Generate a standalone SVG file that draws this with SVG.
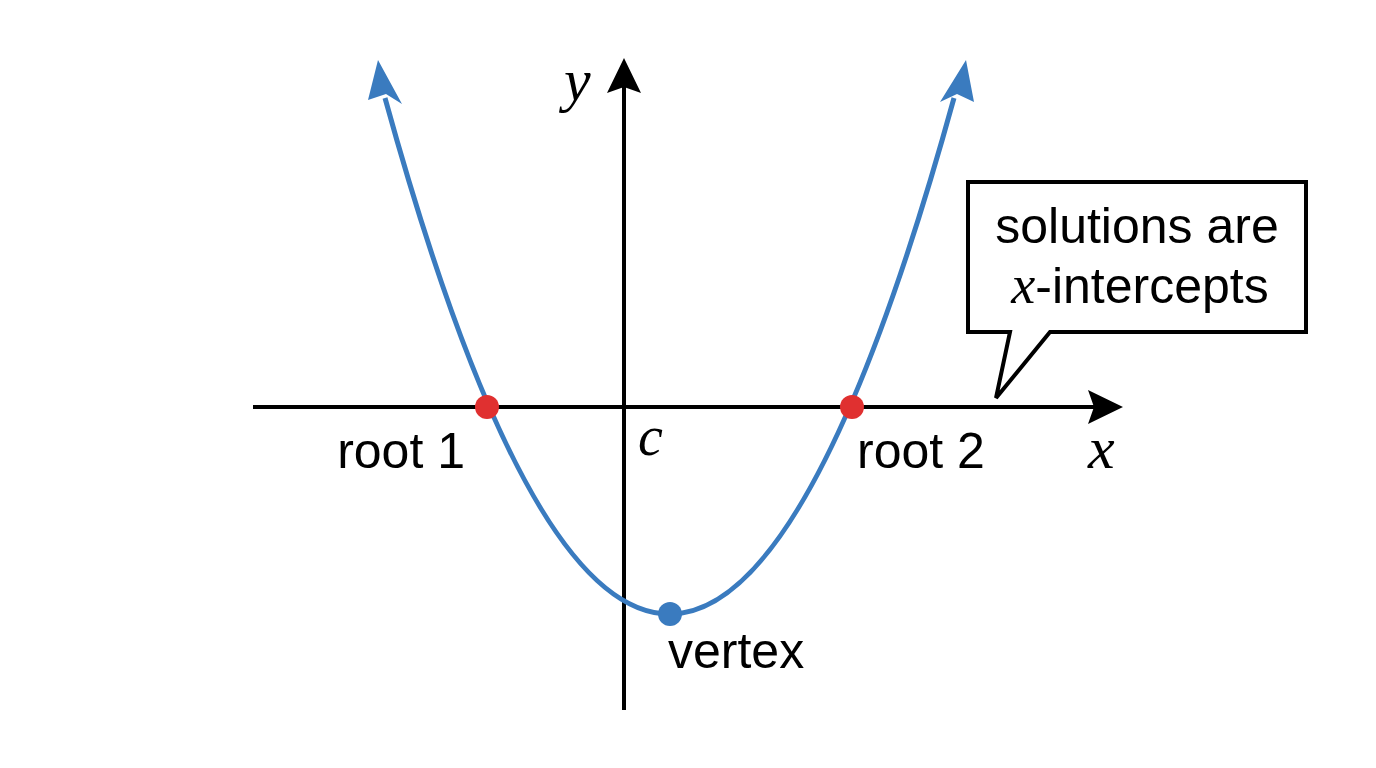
<svg xmlns="http://www.w3.org/2000/svg" width="1376" height="768" viewBox="0 0 1376 768">
<style>
.lbl{font-family:"Liberation Sans",Arial,sans-serif;font-size:50px;fill:#000}
.it{font-family:"Liberation Serif","Times New Roman",serif;font-style:italic;fill:#000}
</style>
<rect width="1376" height="768" fill="#fff"/>
<g id="connectors">
<line x1="253" y1="407" x2="1100" y2="407" stroke="#000" stroke-width="4"/>
<path d="M1123,407 L1088,390 L1094,407 L1088,424 z" fill="#000"/>
<line x1="624" y1="710" x2="624" y2="85" stroke="#000" stroke-width="4"/>
<path d="M624,58 L607,93 L624,87 L641,93 z" fill="#000"/>
<path d="M385,98 Q669.5,1130 954,98" fill="none" stroke="#3a7bbf" stroke-width="5"/>
<path d="M378,60 L368,100 L386,94 L402,104 z" fill="#3a7bbf"/>
<path d="M966,60 L940,102 L957,94 L974,102 z" fill="#3a7bbf"/>
</g>
<g id="root1"><circle cx="487" cy="407" r="12" fill="#e03030"/><text class="lbl" x="465" y="468" text-anchor="end">root 1</text></g>
<g id="root2"><circle cx="852" cy="407" r="12" fill="#e03030"/><text class="lbl" x="857" y="468">root 2</text></g>
<g id="vertex"><circle cx="670" cy="614" r="12" fill="#3a7bbf"/><text class="lbl" x="668" y="668" font-size="54">vertex</text></g>
<g id="labels">
<text class="it" x="638" y="455" font-size="56">c</text>
<text class="it" x="1088" y="468" font-size="60">x</text>
<text class="it" x="564" y="100" font-size="60">y</text>
</g>
<g id="callout">
<path d="M968,182 H1306 V332 H1050 L996,398 L1010,332 H968 Z" fill="#fff" stroke="#000" stroke-width="4"/>
<text class="lbl" x="1137" y="243" text-anchor="middle" font-size="51">solutions are</text>
<text class="lbl" x="1140" y="303" text-anchor="middle" font-size="51"><tspan class="it" font-size="54">x</tspan>-intercepts</text>
</g>
</svg>
